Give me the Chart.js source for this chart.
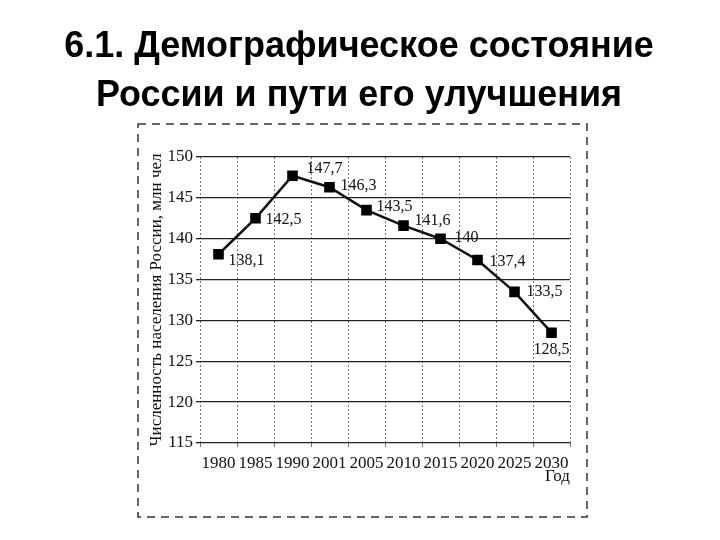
<!DOCTYPE html>
<html>
<head>
<meta charset="utf-8">
<script src="https://cdn.jsdelivr.net/npm/chart.js@4.4.1/dist/chart.umd.min.js"></script>
<style>
html,body{margin:0;padding:0;background:#fff;}
canvas{display:block;}
</style>
</head>
<body>
<canvas id="c" width="720" height="540"></canvas>
<script>
const years = ['1980','1985','1990','2001','2005','2010','2015','2020','2025','2030'];
const population = [138.1, 142.5, 147.7, 146.3, 143.5, 141.6, 140, 137.4, 133.5, 128.5];
const yTicks = [115, 120, 125, 130, 135, 140, 145, 150];
const titleLines = ['6.1. Демографическое состояние', 'России и пути его улучшения'];
const yTitle = 'Численность населения России, млн чел';
const xTitle = 'Год';

const SERIF = '"Liberation Serif", "DejaVu Serif", serif';

const pageDecor = {
  id: 'pageDecor',
  beforeDraw(chart) {
    const ctx = chart.ctx;
    ctx.save();
    ctx.fillStyle = '#fff';
    ctx.fillRect(0, 0, chart.width, chart.height);
    // dashed frame
    ctx.strokeStyle = '#333';
    ctx.lineWidth = 1.5;
    ctx.setLineDash([8, 6]);
    ctx.strokeRect(138, 124, 449, 393);
    ctx.setLineDash([]);
    // title
    ctx.fillStyle = '#000';
    ctx.font = 'bold 36px "Liberation Sans", Arial, sans-serif';
    ctx.textAlign = 'center';
    ctx.textBaseline = 'alphabetic';
    ctx.fillText(titleLines[0], 359, 57, 593);
    ctx.fillText(titleLines[1], 359, 106, 526);
    ctx.restore();
  }
};

const valueLabels = {
  id: 'valueLabels',
  afterDatasetsDraw(chart, args, opts) {
    const ctx = chart.ctx;
    const meta = chart.getDatasetMeta(0);
    const ds = chart.data.datasets[0].data;
    ctx.save();
    ctx.fillStyle = '#111';
    ctx.font = '16px ' + SERIF;
    ctx.textBaseline = 'middle';
    meta.data.forEach((pt, i) => {
      const off = opts.offsets[i] || [10, 0, 'left'];
      ctx.textAlign = off[2];
      ctx.fillText(String(ds[i]).replace('.', ','), pt.x + off[0], pt.y + off[1]);
    });
    ctx.restore();
  }
};

new Chart(document.getElementById('c'), {
  type: 'line',
  data: {
    labels: years,
    datasets: [{
      data: population,
      borderColor: '#111',
      borderWidth: 2.5,
      backgroundColor: '#000',
      pointStyle: 'rect',
      pointRadius: 7.5,
      pointBorderWidth: 0,
      pointBackgroundColor: '#000',
      tension: 0,
      fill: false
    }]
  },
  options: {
    responsive: false,
    animation: false,
    devicePixelRatio: 1,
    layout: { padding: { left: 140, right: 150, top: 157, bottom: 20 } },
    plugins: {
      legend: { display: false },
      tooltip: { enabled: false },
      title: { display: false },
      valueLabels: {
        offsets: [
          [10, 7, 'left'], [10, 2, 'left'], [14, -7, 'left'], [11, -1, 'left'],
          [10, -3, 'left'], [11, -5, 'left'], [14, -1, 'left'], [12, 2, 'left'],
          [12, 0, 'left'], [0, 17, 'center']
        ]
      }
    },
    scales: {
      x: {
        type: 'category',
        offset: true,
        grid: { offset: true, color: '#777', lineWidth: 1, tickLength: 4, drawTicks: true },
        border: { display: false, dash: [2, 2] },
        ticks: { color: '#111', font: { family: SERIF, size: 17 }, autoSkip: false, maxRotation: 0, padding: 6 },
        title: { display: true, text: xTitle, align: 'end', color: '#111', font: { family: SERIF, size: 17 }, padding: { top: 0, bottom: 33 } },
        afterFit(scale) { scale.height = 77; }
      },
      y: {
        min: 115,
        max: 150,
        afterBuildTicks(scale) { scale.ticks = yTicks.map(v => ({ value: v })); },
        grid: { color: '#222', lineWidth: 1.3, tickLength: 4, drawTicks: true },
        border: { display: false },
        ticks: { color: '#111', font: { family: SERIF, size: 17 }, padding: 3 },
        title: { display: true, text: yTitle, color: '#111', font: { family: SERIF, size: 17 }, padding: { top: 6, bottom: 0 } },
        afterFit(scale) { scale.width = 60; }
      }
    }
  },
  plugins: [pageDecor, valueLabels]
});
</script>
</body>
</html>
